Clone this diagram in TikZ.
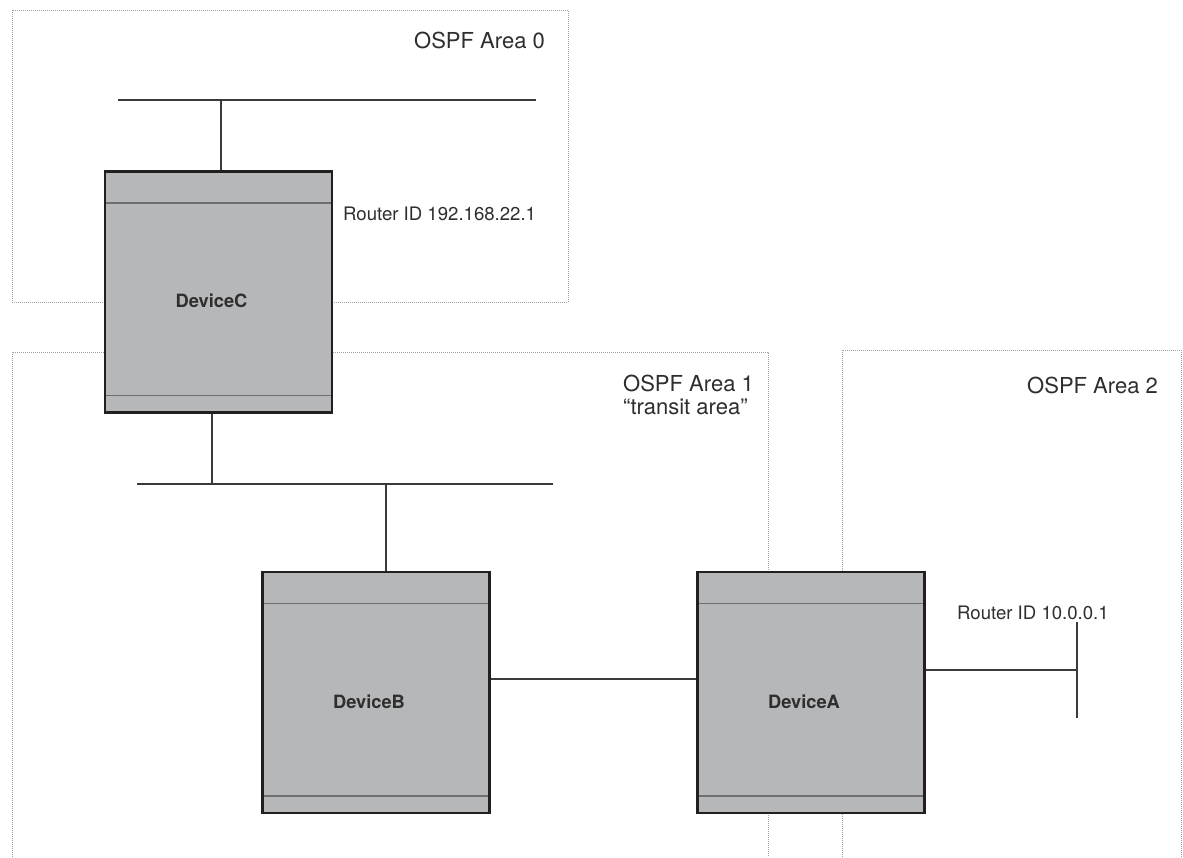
\documentclass[tikz,border=0pt]{standalone}
\usepackage{xcolor}
\usepackage{fontspec}
\setmainfont{TeX Gyre Heros}
\usepackage{tikz}
\usetikzlibrary{calc}

\definecolor{boxgray}{HTML}{B6B7B9}
\definecolor{boxline}{HTML}{231F20}
\definecolor{barline}{HTML}{6E6E70}
\definecolor{wire}{HTML}{3A3A3A}
\definecolor{arealine}{HTML}{A0A0A0}
\definecolor{ink}{HTML}{2E2E2E}

\begin{document}
\begin{tikzpicture}[x=1pt, y=-1pt,
    area/.style={draw=arealine, line width=1pt, dash pattern=on 1pt off 1pt},
    link/.style={draw=wire, line width=1.3pt},
    device/.style={draw=boxline, line width=2.2pt, fill=boxgray,
      minimum width=227pt, minimum height=241pt, inner sep=0pt,
      path picture={
        \draw[barline, line width=1.6pt]
          ([yshift=-31.5pt]path picture bounding box.north west) -- ([yshift=-31.5pt]path picture bounding box.north east)
          ([yshift=17pt]path picture bounding box.south west) -- ([yshift=17pt]path picture bounding box.south east);}},
    devname/.style={font=\bfseries\fontsize{18.3}{20}\selectfont, text=ink, xshift=-7pt, yshift=-9pt},
    areaname/.style={anchor=base west, inner sep=0pt, text=ink, font=\fontsize{22}{22.5}\selectfont, align=left},
    rid/.style={anchor=base west, inner sep=0pt, text=ink, font=\fontsize{18.6}{20}\selectfont}]
  \useasboundingbox (0,0) rectangle (1183,857);

  % areas
  \draw[area] (12,10) rectangle (568,302);
  \draw[area] (12,857) -- (12,352) -- (768,352) -- (768,857);
  \draw[area] (842,857) -- (842,350) -- (1181,350) -- (1181,857);

  \node[areaname] (a0) at (414,48) {OSPF Area 0};
  \node[areaname] (a1) at (623,414) {OSPF Area 1\\“transit area”};
  \node[areaname] (a2) at (1027,393) {OSPF Area 2};

  % devices
  \node[device, label={[devname]center:DeviceC}] (C) at (218.5,292) {};
  \node[device, label={[devname]center:DeviceB}] (B) at (376,692.5) {};
  \node[device, label={[devname]center:DeviceA}] (A) at (811,692.5) {};

  \node[rid] (ridC) at (343,220) {Router ID 192.168.22.1};
  \node[rid] (ridA) at (957,619) {Router ID 10.0.0.1};

  % lans
  \coordinate (T) at (221,100);
  \coordinate (S1) at (212,484);
  \coordinate (S2) at (386,484);
  \coordinate (L) at (1077,670);

  \draw[link] (118,100) -- (536,100);
  \draw[link] (T) -- (T |- C.north);
  \draw[link] (137,484) -- (553,484);
  \draw[link] (C.south -| S1) -- (S1);
  \draw[link] (S2) -- (S2 |- B.north);
  \draw[link] ([yshift=13.5pt]B.east) -- ([yshift=13.5pt]A.west);
  \draw[link] (A.east |- L) -- (L);
  \draw[link] ($(L)+(0,-48)$) -- ($(L)+(0,48)$);
\end{tikzpicture}
\end{document}
